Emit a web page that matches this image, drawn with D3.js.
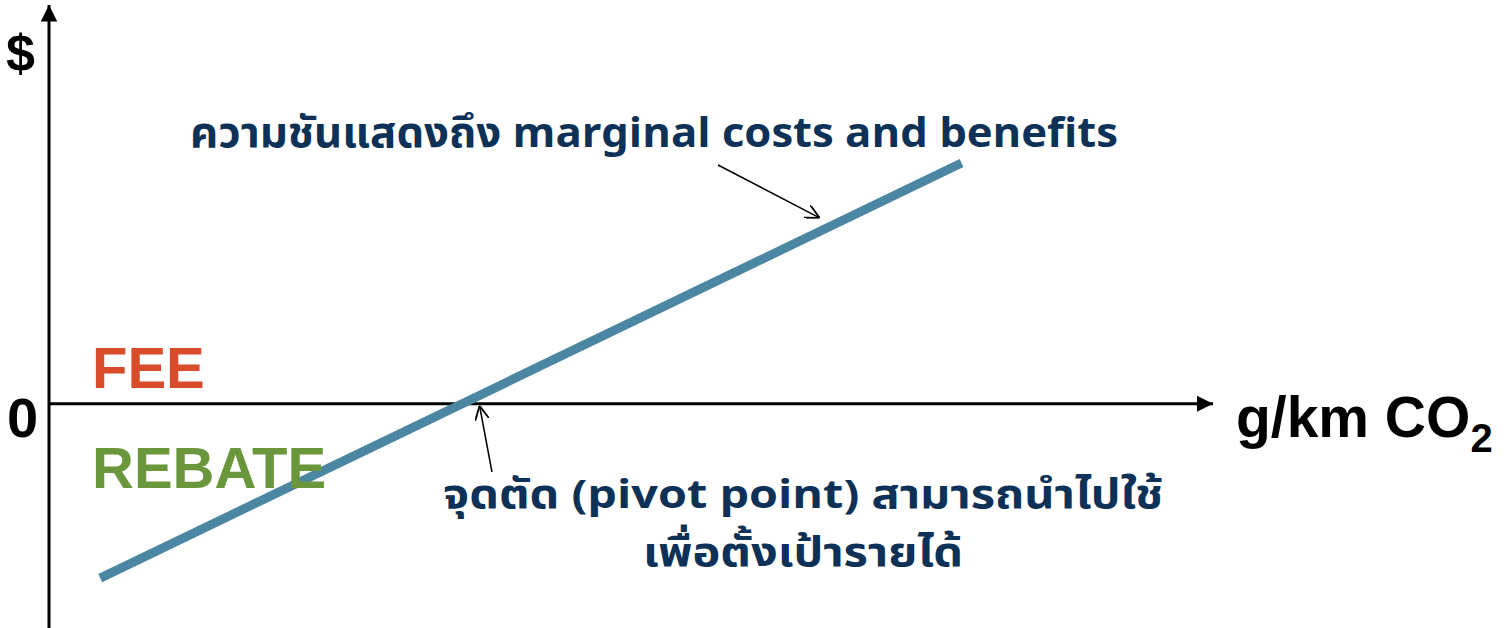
<!DOCTYPE html>
<html>
<head>
  <meta charset="utf-8">
  <script src="https://d3js.org/d3.v7.min.js"></script>
  <style>
    body { margin: 0; background: #fff; }
    .lbl { font-family: "Liberation Sans", Arial, sans-serif; font-weight: bold; }
    .th { font-family: Tahoma, "Noto Sans Thai", "Noto Sans", sans-serif; font-weight: bold; fill: #0d3157; }
  </style>
</head>
<body>
  <div id="chart"></div>
  <script>
    // curve: emission level vs fee/rebate amount (arbitrary units)
    var emission = [4.4, 78.4];
    var amount = [-35, 48.3];
    var pivot = { x: 36.9, y: 0 };
    var yLabel = "$";
    var zeroLabel = "0";
    var xLabel = "g/km CO";
    var xLabelSub = "2";
    var zoneLabels = ["FEE", "REBATE"];
    var slopeNote = "ความชันแสดงถึง marginal costs and benefits";
    var pivotNote = ["จุดตัด (pivot point) สามารถนำไปใช้", "เพื่อตั้งเป้ารายได้"];

    var width = 1509, height = 628;
    var svg = d3.select("#chart").append("svg")
      .attr("width", width)
      .attr("height", height);

    var x = d3.scaleLinear().domain([0, 100]).range([49, 1213]);
    var y = d3.scaleLinear().domain([-45, 80]).range([628, 5]);

    var defs = svg.append("defs");
    defs.append("marker")
      .attr("id", "axhead")
      .attr("viewBox", "0 0 10 10")
      .attr("refX", 10).attr("refY", 5)
      .attr("markerWidth", 5.5).attr("markerHeight", 5.5)
      .attr("markerUnits", "strokeWidth")
      .attr("orient", "auto")
      .append("path").attr("d", "M0,0L10,5L0,10Z").attr("fill", "#000");
    defs.append("marker")
      .attr("id", "openhead")
      .attr("viewBox", "0 0 10 10")
      .attr("refX", 10).attr("refY", 5)
      .attr("markerWidth", 14).attr("markerHeight", 14)
      .attr("markerUnits", "userSpaceOnUse")
      .attr("orient", "auto")
      .append("path").attr("d", "M0,0L10,5L0,10").attr("fill", "none")
      .attr("stroke", "#000").attr("stroke-width", 1.3);

    // axes
    svg.append("line")
      .attr("x1", x(0)).attr("y1", height)
      .attr("x2", x(0)).attr("y2", y(80))
      .attr("stroke", "#000").attr("stroke-width", 3)
      .attr("marker-end", "url(#axhead)");
    svg.append("line")
      .attr("x1", x(0)).attr("y1", y(0))
      .attr("x2", x(100)).attr("y2", y(0))
      .attr("stroke", "#000").attr("stroke-width", 3)
      .attr("marker-end", "url(#axhead)");

    // the curve
    var pts = emission.map((d, i) => [d, amount[i]]);
    var line = d3.line().x(d => x(d[0])).y(d => y(d[1]));
    svg.append("path")
      .datum(pts)
      .attr("d", line)
      .attr("fill", "none")
      .attr("stroke", "#4b87a2")
      .attr("stroke-width", 9);

    // axis labels
    svg.append("text").attr("class", "lbl")
      .attr("x", 6).attr("y", 71)
      .attr("font-size", 52)
      .text(yLabel);
    svg.append("text").attr("class", "lbl")
      .attr("x", 7).attr("y", 437)
      .attr("font-size", 56)
      .text(zeroLabel);
    var xl = svg.append("text").attr("class", "lbl")
      .attr("x", 1236).attr("y", 437)
      .attr("font-size", 57);
    xl.append("tspan").text(xLabel);
    xl.append("tspan").attr("font-size", 40).attr("dy", 15).text(xLabelSub);

    svg.append("text").attr("class", "lbl")
      .attr("x", 92).attr("y", 388)
      .attr("font-size", 58)
      .attr("fill", "#d94c2b")
      .text(zoneLabels[0]);
    svg.append("text").attr("class", "lbl")
      .attr("x", 92).attr("y", 488)
      .attr("font-size", 58)
      .attr("fill", "#6b973c")
      .text(zoneLabels[1]);

    // annotations
    svg.append("text").attr("class", "th")
      .attr("x", 190).attr("y", 147)
      .attr("font-size", 42)
      .attr("textLength", 928)
      .attr("lengthAdjust", "spacingAndGlyphs")
      .text(slopeNote);
    svg.append("line")
      .attr("x1", 718).attr("y1", 165)
      .attr("x2", x(66.2)).attr("y2", y(37.3))
      .attr("stroke", "#000").attr("stroke-width", 1.5)
      .attr("marker-end", "url(#openhead)");

    svg.append("line")
      .attr("x1", 492).attr("y1", 472)
      .attr("x2", x(pivot.x) + 1).attr("y2", y(pivot.y) + 2)
      .attr("stroke", "#000").attr("stroke-width", 1.5)
      .attr("marker-end", "url(#openhead)");
    var noteLen = [720, 320];
    svg.selectAll(".pnote")
      .data(pivotNote).enter()
      .append("text").attr("class", "th pnote")
      .attr("x", 803)
      .attr("y", (d, i) => 508 + i * 58)
      .attr("text-anchor", "middle")
      .attr("font-size", 40)
      .attr("textLength", (d, i) => noteLen[i])
      .attr("lengthAdjust", "spacingAndGlyphs")
      .text(d => d);
  </script>
</body>
</html>
